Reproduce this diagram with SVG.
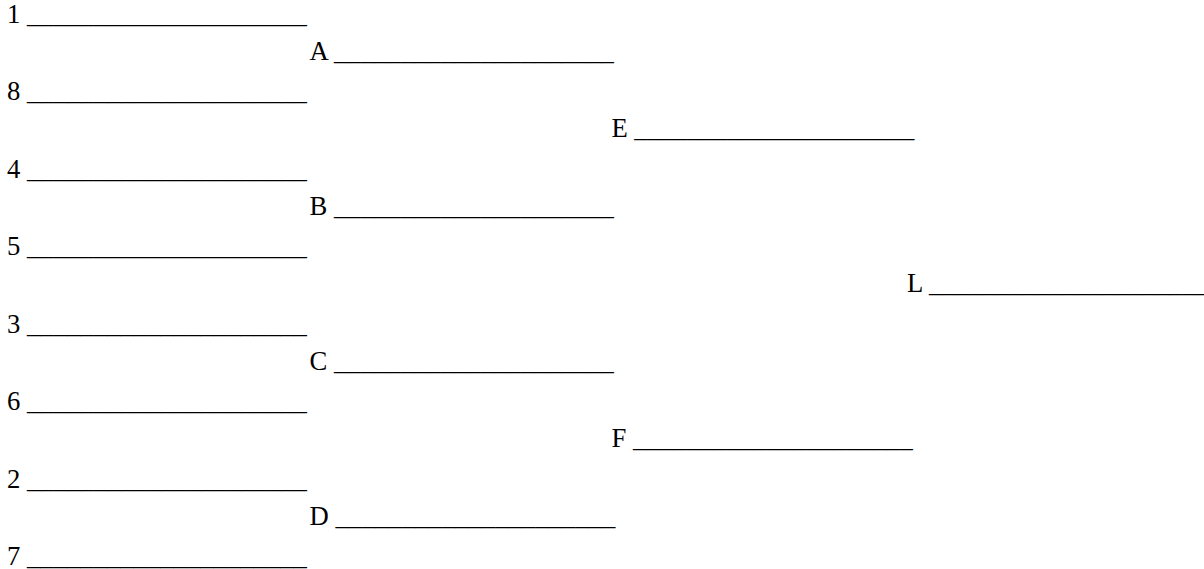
<svg xmlns="http://www.w3.org/2000/svg" width="1204" height="569" viewBox="0 0 1204 569">
<style>
text { font-family: "Liberation Serif", "Times New Roman", serif; font-size: 26.67px; fill: #000; }
</style>
<rect width="1204" height="569" fill="#fff"/>
<g id="slot-1"><text x="7" y="22.5">1 _____________________</text></g>
<g id="slot-8"><text x="7" y="100">8 _____________________</text></g>
<g id="slot-4"><text x="7" y="177.5">4 _____________________</text></g>
<g id="slot-5"><text x="7" y="255">5 _____________________</text></g>
<g id="slot-3"><text x="7" y="332.5">3 _____________________</text></g>
<g id="slot-6"><text x="7" y="410">6 _____________________</text></g>
<g id="slot-2"><text x="7" y="487.5">2 _____________________</text></g>
<g id="slot-7"><text x="7" y="565">7 _____________________</text></g>
<g id="slot-A"><text x="309.6" y="59.75">A _____________________</text></g>
<g id="slot-B"><text x="309.6" y="214.75">B _____________________</text></g>
<g id="slot-C"><text x="309.6" y="369.75">C _____________________</text></g>
<g id="slot-D"><text x="309.6" y="524.75">D _____________________</text></g>
<g id="slot-E"><text x="611.4" y="137.25">E _____________________</text></g>
<g id="slot-F"><text x="611.4" y="447.25">F _____________________</text></g>
<g id="slot-L"><text x="907" y="292.25">L _____________________</text></g>
<g id="connectors"></g>
</svg>
